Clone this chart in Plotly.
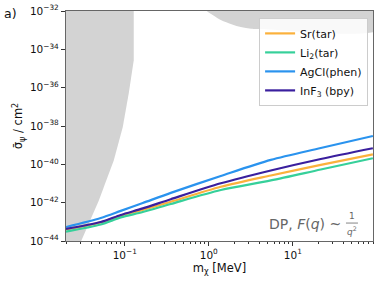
import plotly.graph_objects as go

# ---- data ----
mass = [0.02, 0.0518, 0.0896, 0.1638, 0.353, 1.39, 5.47, 21.5, 89.6]
sr_tar  = [-43.39, -43.03, -42.67, -42.38, -41.95, -41.17, -40.58, -40.03, -39.48]
li2_tar = [-43.51, -43.14, -42.77, -42.49, -42.07, -41.34, -40.84, -40.27, -39.68]
agcl    = [-43.27, -42.80, -42.43, -42.02, -41.49, -40.61, -39.77, -39.15, -38.52]
inf3    = [-43.37, -43.01, -42.64, -42.30, -41.82, -40.99, -40.32, -39.72, -39.16]

series_names = ["Sr(tar)", "Li<sub>2</sub>(tar)", "AgCl(phen)", "InF<sub>3</sub> (bpy)"]
series_vals = [sr_tar, li2_tar, agcl, inf3]
series_colors = ["#FBB13C", "#36D09A", "#2A93EE", "#3A1F9E"]

# excluded regions (log10 of cross-section)
left_excl_x = [0.015, 0.128, 0.128, 0.1116, 0.0946, 0.074, 0.049, 0.030, 0.015]
left_excl_y = [-31.9, -31.9, -34.57, -36.29, -38.07, -39.80, -41.90, -44.05, -44.1]
top_excl_x = [0.92, 1.2, 1.39, 1.9, 2.4, 3.2, 4.16, 120, 120, 0.92]
top_excl_y = [-31.9, -32.3, -32.47, -32.7, -32.84, -32.92, -32.94, -32.9, -31.9, -31.9]

x_tickvals = [0.1, 1, 10]
x_ticktext = ["10<sup>\u22121</sup>", "10<sup>0</sup>", "10<sup>1</sup>"]
y_exps = [-32, -34, -36, -38, -40, -42, -44]
x_minor = [d * 10.0 ** e for e in (-2, -1, 0, 1) for d in range(2, 10)]

fig = go.Figure()

fig.add_trace(go.Scatter(x=left_excl_x, y=[10 ** v for v in left_excl_y], fill="toself",
                         fillcolor="#D3D3D3", line=dict(width=0), mode="lines",
                         showlegend=False, hoverinfo="skip"))
fig.add_trace(go.Scatter(x=top_excl_x, y=[10 ** v for v in top_excl_y], fill="toself",
                         fillcolor="#D3D3D3", line=dict(width=0, shape="spline"), mode="lines",
                         showlegend=False, hoverinfo="skip"))

for name, vals, col in zip(series_names, series_vals, series_colors):
    fig.add_trace(go.Scatter(x=mass, y=[10 ** v for v in vals], mode="lines", name=name,
                             line=dict(color=col, width=2.2, shape="spline", smoothing=0.8)))

axis_col = "#666666"
fig.update_xaxes(type="log", range=[-1.699, 1.954], tickmode="array",
                 tickvals=x_tickvals, ticktext=x_ticktext, automargin=False,
                 ticks="outside", ticklen=4, tickcolor="#333", tickwidth=1,
                 showline=True, linecolor=axis_col, linewidth=1.3, mirror=True,
                 showgrid=False, zeroline=False,
                 minor=dict(tickmode="array", tickvals=x_minor, ticks="outside",
                            ticklen=2, tickcolor="#333", showgrid=False),
                 title=dict(text="m<sub>\u03c7</sub> [MeV]", font=dict(size=11.5), standoff=3),
                 tickfont=dict(size=10.5))
fig.update_yaxes(type="log", range=[-44, -32], tickmode="array",
                 tickvals=[10.0 ** e for e in y_exps], automargin=False,
                 ticktext=["10<sup>\u2212%d</sup>" % (-e) for e in y_exps],
                 ticks="outside", ticklen=4, tickcolor="#333", tickwidth=1,
                 showline=True, linecolor=axis_col, linewidth=1.3, mirror=True,
                 showgrid=False, zeroline=False,
                 title=dict(text="\u03c3\u0304<sub>\u03c8</sub> / cm<sup>2</sup>", font=dict(size=11.5), standoff=4),
                 tickfont=dict(size=10.5))

fig.update_layout(
    width=381, height=285,
    margin=dict(l=66, r=8, t=11, b=44),
    paper_bgcolor="white", plot_bgcolor="white",
    font=dict(family="DejaVu Sans", color="#111"),
    legend=dict(x=0.984, y=0.97, xanchor="right", yanchor="top",
                bgcolor="rgba(255,255,255,0.85)", bordercolor="#CCCCCC", borderwidth=1,
                font=dict(size=11), tracegroupgap=0),
    showlegend=True,
)

fig.add_annotation(x=-0.208, y=0.987, xref="paper", yref="paper", text="a)",
                   showarrow=False, font=dict(size=12.5), xanchor="left", yanchor="middle")
fig.add_annotation(x=0.902, y=0.074, xref="paper", yref="paper",
                   text="DP, <i>F</i>(<i>q</i>) ~", showarrow=False,
                   font=dict(size=14, color="#666"), xanchor="right", yanchor="middle")
fig.add_annotation(x=0.932, y=0.109, xref="paper", yref="paper", text="1",
                   showarrow=False, font=dict(size=9, color="#666"), xanchor="center", yanchor="middle")
fig.add_annotation(x=0.932, y=0.043, xref="paper", yref="paper", text="<i>q</i><sup>2</sup>",
                   showarrow=False, font=dict(size=9, color="#666"), xanchor="center", yanchor="middle")
fig.add_shape(type="line", xref="paper", yref="paper", x0=0.912, x1=0.951, y0=0.078, y1=0.078,
              line=dict(color="#666", width=0.8))

fig.write_html("out.html", config={"displayModeBar": False},
               post_script="document.body.style.margin='0';")
